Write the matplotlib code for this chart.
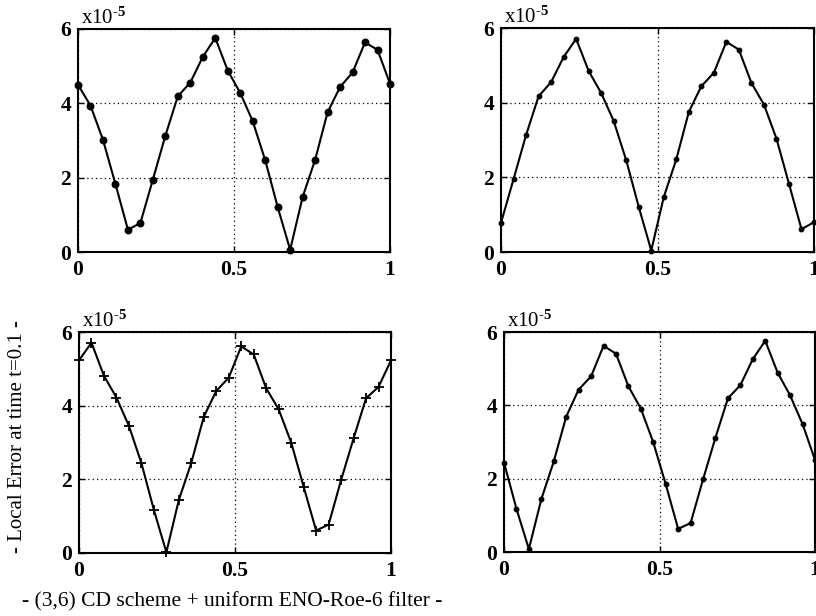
import matplotlib
matplotlib.use("Agg")
import matplotlib.pyplot as plt
import numpy as np

plt.rcParams['font.family'] = ['Liberation Serif', 'DejaVu Serif']
plt.rcParams['mathtext.fontset'] = 'custom'
plt.rcParams['mathtext.rm'] = 'Liberation Serif:bold'
plt.rcParams['mathtext.it'] = 'Liberation Serif:bold'
plt.rcParams['mathtext.bf'] = 'Liberation Serif:bold'

x_values = [i * 0.04 for i in range(26)]

panel_tl = [4.50, 3.94, 3.02, 1.83, 0.60, 0.78, 1.95, 3.13, 4.19, 4.56, 5.25, 5.76, 4.88,
            4.28, 3.52, 2.47, 1.21, 0.06, 1.48, 2.48, 3.76, 4.44, 4.83, 5.64, 5.44, 4.53]
panel_tr = [0.78, 1.95, 3.13, 4.17, 4.55, 5.22, 5.71, 4.85, 4.26, 3.51, 2.46, 1.21, 0.04,
            1.47, 2.48, 3.75, 4.44, 4.80, 5.63, 5.42, 4.53, 3.95, 3.04, 1.83, 0.61, 0.80]
panel_bl = [5.23, 5.71, 4.81, 4.22, 3.45, 2.44, 1.17, 0.02, 1.44, 2.45, 3.70, 4.40, 4.76,
            5.61, 5.39, 4.47, 3.90, 3.00, 1.80, 0.61, 0.77, 1.98, 3.11, 4.20, 4.51, 5.23]
panel_br = [2.44, 1.18, 0.08, 1.44, 2.47, 3.69, 4.43, 4.79, 5.62, 5.41, 4.52, 3.91, 2.99,
            1.85, 0.63, 0.79, 1.98, 3.12, 4.19, 4.55, 5.26, 5.76, 4.89, 4.27, 3.49, 2.51]

x_ticks = [0, 0.5, 1]
x_tick_labels = ['0', '0.5', '1']
y_ticks = [0, 2, 4, 6]
y_tick_labels = ['0', '2', '4', '6']

ylabel_text = '- Local Error at time t=0.1 -'
caption_text = '- (3,6) CD scheme + uniform ENO-Roe-6 filter -'
scale_text = r'x10$^{\text{-5}}$'

W, H = 816, 616
fig = plt.figure(figsize=(W / 100, H / 100), dpi=100)

def px_axes(left, top, right, bottom):
    return fig.add_axes([left / W, 1 - bottom / H, (right - left) / W, (bottom - top) / H])

panels = [
    (px_axes(78, 29, 390, 252), panel_tl, dict(marker='o', markersize=4.5, markerfacecolor='black',
                                              markeredgecolor='black', markeredgewidth=1.2)),
    (px_axes(501, 28, 814, 252), panel_tr, dict(marker='o', markersize=3.2, markerfacecolor='black',
                                               markeredgecolor='black')),
    (px_axes(79, 332, 391, 553), panel_bl, dict(marker='+', markersize=7, markeredgewidth=1.3,
                                               markeredgecolor='black')),
    (px_axes(504, 332, 815, 552), panel_br, dict(marker='o', markersize=3.2, markerfacecolor='black',
                                                markeredgecolor='black')),
]

for ax, vals, mk in panels:
    ax.plot(x_values, vals, color='black', linewidth=1.5, **mk, clip_on=False, zorder=3)
    ax.set_xlim(0, 1)
    ax.set_ylim(0, 6)
    ax.set_xticks(x_ticks)
    ax.set_xticklabels(x_tick_labels)
    ax.set_yticks(y_ticks)
    ax.set_yticklabels(y_tick_labels)
    ax.grid(True, color='black', linestyle=(0, (1, 2.5)), linewidth=0.9)
    ax.tick_params(direction='in', top=True, right=True, length=4, width=1,
                   labelsize=15.5)
    ax.tick_params(axis='x', pad=6)
    ax.tick_params(axis='y', pad=5)
    for lab in ax.get_xticklabels() + ax.get_yticklabels():
        lab.set_fontweight('bold')
    for s in ax.spines.values():
        s.set_linewidth(1.5)
    ax.annotate(scale_text, xy=(0.0, 1.0), xycoords='axes fraction',
                xytext=(2, 0), textcoords='offset points',
                ha='left', va='bottom', fontsize=15)

fig.text(18 / W, 1 - 437 / H, ylabel_text, rotation=90, ha='center', va='center', fontsize=15)
fig.text(22 / W, 1 - 602 / H, caption_text, ha='left', va='center', fontsize=15.5)

fig.savefig('out.png', dpi=100)
